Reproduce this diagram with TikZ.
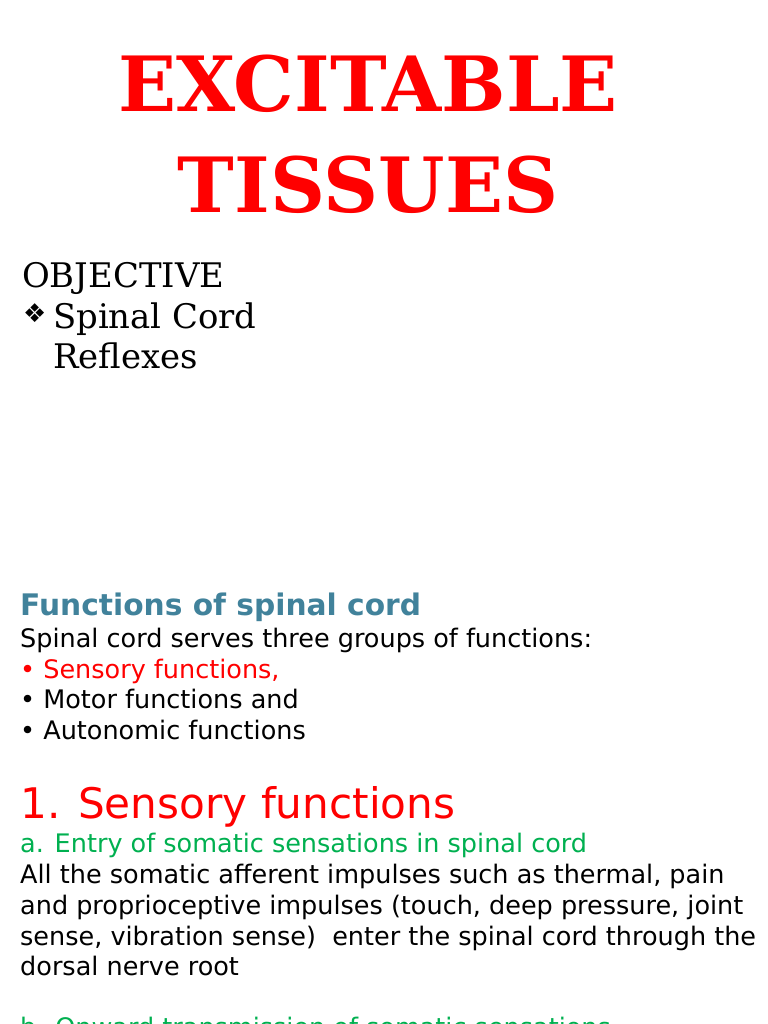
\documentclass[tikz,border=0pt]{standalone}
\usepackage{fontspec}
\setmainfont{DejaVu Sans}
\newfontfamily\serifx{DejaVu Serif}
\definecolor{ttl}{RGB}{255,0,0}
\definecolor{teal}{RGB}{65,130,155}
\definecolor{grn}{RGB}{0,176,80}
\begin{document}
\begin{tikzpicture}[x=1bp,y=-1bp,
  txt/.style={anchor=base west,inner sep=0pt,font=\fontsize{25.6}{28}\selectfont},
  ser/.style={anchor=base west,inner sep=0pt,font=\serifx\fontsize{34}{40}\selectfont}]
\path[use as bounding box,fill=white] (0,0) rectangle (768,1024);
\clip (0,0) rectangle (768,1024);
\node[anchor=base,inner sep=0pt,text=ttl,font=\serifx\bfseries\fontsize{76.5}{90}\selectfont] (t1) at (368,111) {EXCITABLE};
\node[anchor=base,inner sep=0pt,text=ttl,font=\serifx\bfseries\fontsize{76.5}{90}\selectfont] (t2) at (368,212) {TISSUES};
\node[ser] (o1) at (22,287) {OBJECTIVE};
\node[anchor=base west,inner sep=0pt,font=\fontsize{26}{28}\selectfont] (o0) at (23,322) {❖};
\node[ser] (o2) at (53,328) {Spinal Cord};
\node[ser] (o3) at (53,368) {Reflexes};
\node[txt,text=teal,font=\bfseries\fontsize{29.8}{32}\selectfont] (f0) at (20,615) {Functions of spinal cord};
\node[txt] (f1) at (20,647) {Spinal cord serves three groups of functions:};
\node[txt,text=ttl] (f2) at (20,678) {• Sensory functions,};
\node[txt] (f3) at (20,708) {• Motor functions and};
\node[txt] (f4) at (20,739) {• Autonomic functions};
\node[txt,text=ttl,font=\fontsize{42.3}{48}\selectfont] (s0) at (20,818) {1. Sensory functions};
\node[txt,text=grn] (s1) at (20,852) {a. Entry of somatic sensations in spinal cord};
\node[txt] (s2) at (20,883) {All the somatic afferent impulses such as thermal, pain};
\node[txt] (s3) at (20,914) {and proprioceptive impulses (touch, deep pressure, joint};
\node[txt] (s4) at (20,945) {sense, vibration sense)\ \ enter the spinal cord through the};
\node[txt] (s5) at (20,975) {dorsal nerve root};
\node[txt,text=grn] (s6) at (20,1036) {b. Onward transmission of somatic sensations};
\end{tikzpicture}
\end{document}
